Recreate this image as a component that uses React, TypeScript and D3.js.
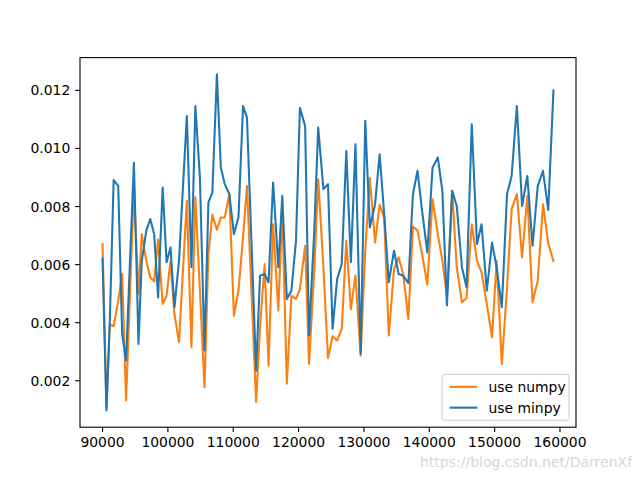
import React from 'react';
import * as d3 from 'd3';

// array sizes on the x axis (spacing grows slightly)
const sizes = [
  90000, 90600, 91100, 91700, 92400, 93000, 93600, 94200, 94800, 95500,
  96000, 96700, 97300, 97900, 98500, 99200, 99800, 100400, 101000, 101700,
  102300, 102900, 103600, 104200, 104900, 105600, 106200, 106800, 107500, 108100,
  108700, 109400, 110100, 110800, 111500, 112100, 112800, 113500, 114100, 114800,
  115400, 116100, 116900, 117500, 118200, 118900, 119600, 120200, 121000, 121600,
  122400, 123000, 123800, 124500, 125200, 125900, 126600, 127300, 128000, 128700,
  129500, 130200, 130900, 131700, 132400, 133100, 133800, 134600, 135300, 136000,
  136800, 137500, 138200, 138900, 139700, 140500, 141300, 142000, 142700, 143500,
  144200, 145000, 145700, 146500, 147300, 148000, 148800, 149600, 150300, 151100,
  151900, 152600, 153400, 154200, 155000, 155800, 156600, 157400, 158200, 159000,
];

const numpyTimes = [
  0.00671, 0.00109, 0.00394, 0.00388, 0.00476, 0.00568, 0.00132, 0.00499, 0.00868, 0.00499,
  0.00705, 0.00613, 0.00556, 0.00542, 0.00686, 0.00465, 0.00493, 0.00613, 0.00430, 0.00333,
  0.00579, 0.00820, 0.00316, 0.00833, 0.00510, 0.00178, 0.00636, 0.00772, 0.00719, 0.00762,
  0.00762, 0.00843, 0.00424, 0.00510, 0.00694, 0.00871, 0.00499, 0.00127, 0.00384, 0.00602,
  0.00253, 0.00739, 0.00442, 0.00791, 0.00190, 0.00493, 0.00482, 0.00516, 0.00665, 0.00258,
  0.00579, 0.00894, 0.00591, 0.00278, 0.00353, 0.00339, 0.00379, 0.00682, 0.00447, 0.00562,
  0.00287, 0.00648, 0.00898, 0.00676, 0.00806, 0.00762, 0.00356, 0.00585, 0.00625, 0.00568,
  0.00413, 0.00731, 0.00717, 0.00636, 0.00531, 0.00825, 0.00705, 0.00613, 0.00493, 0.00854,
  0.00591, 0.00470, 0.00485, 0.00739, 0.00613, 0.00573, 0.00465, 0.00350, 0.00613, 0.00258,
  0.00522, 0.00791, 0.00843, 0.00625, 0.00837, 0.00470, 0.00545, 0.00808, 0.00673, 0.00613,
];

const minpyTimes = [
  0.00619, 0.00098, 0.00396, 0.00891, 0.00871, 0.00361, 0.00270, 0.00613, 0.00951, 0.00327,
  0.00613, 0.00717, 0.00757, 0.00705, 0.00487, 0.00865, 0.00608, 0.00659, 0.00453, 0.00613,
  0.00865, 0.01112, 0.00591, 0.01146, 0.00900, 0.00304, 0.00814, 0.00848, 0.01255, 0.00934,
  0.00877, 0.00843, 0.00705, 0.00762, 0.01146, 0.01106, 0.00671, 0.00235, 0.00562, 0.00568,
  0.00539, 0.00883, 0.00591, 0.00837, 0.00482, 0.00510, 0.00682, 0.01140, 0.01077, 0.00356,
  0.00717, 0.01072, 0.00860, 0.00877, 0.00379, 0.00550, 0.00602, 0.00991, 0.00608, 0.01014,
  0.00293, 0.01095, 0.00728, 0.00808, 0.00980, 0.00774, 0.00539, 0.00648, 0.00568, 0.00562,
  0.00536, 0.00843, 0.00923, 0.00785, 0.00642, 0.00934, 0.00969, 0.00854, 0.00459, 0.00854,
  0.00802, 0.00591, 0.00522, 0.01083, 0.00671, 0.00739, 0.00510, 0.00676, 0.00591, 0.00453,
  0.00843, 0.00905, 0.01146, 0.00802, 0.00905, 0.00665, 0.00871, 0.00923, 0.00788, 0.01200,
];

const xTicks = [90000, 100000, 110000, 120000, 130000, 140000, 150000, 160000];
const yTicks = [0.002, 0.004, 0.006, 0.008, 0.010, 0.012];

const seriesNames = ['use numpy', 'use minpy'];
const seriesColors = ['#ff7f0e', '#1f77b4'];

const W = 640;
const H = 480;
const left = 80, right = 576, top = 57.6, bottom = 427.2;
const font = 'DejaVu Sans, sans-serif';
const fs = 13.9;

function padded(vals: number[]) {
  const [lo, hi] = d3.extent(vals) as [number, number];
  const p = (hi - lo) * 0.05;
  return [lo - p, hi + p];
}

export default function App() {
  const x = d3.scaleLinear().domain(padded(sizes)).range([left, right]);
  const y = d3.scaleLinear().domain(padded([...numpyTimes, ...minpyTimes])).range([bottom, top]);

  const line = d3.line<number>()
    .x((_, i) => x(sizes[i]))
    .y(d => y(d));

  const series = [numpyTimes, minpyTimes];
  const tick = 4.86;

  // legend box, lower right
  const lgW = 127, lgH = 46;
  const lgX = right - 6.94 - lgW;
  const lgY = bottom - 6.94 - lgH;

  return (
    <svg width={W} height={H} style={{ position: 'absolute', left: 0, top: 0, background: '#fff' }}>
      {series.map((s, k) => (
        <path key={k} d={line(s) || ''} fill="none" stroke={seriesColors[k]}
          strokeWidth={2.08} strokeLinejoin="round" strokeLinecap="square" />
      ))}

      <rect x={left} y={top} width={right - left} height={bottom - top}
        fill="none" stroke="#000" strokeWidth={1.11} />

      {xTicks.map(t => (
        <g key={t}>
          <line x1={x(t)} x2={x(t)} y1={bottom} y2={bottom + tick} stroke="#000" strokeWidth={1.11} />
          <text x={x(t)} y={bottom + 2 * tick + 10.1} textAnchor="middle"
            fontFamily={font} fontSize={fs} fill="#000">{t}</text>
        </g>
      ))}

      {yTicks.map(t => (
        <g key={t}>
          <line x1={left - tick} x2={left} y1={y(t)} y2={y(t)} stroke="#000" strokeWidth={1.11} />
          <text x={left - 2 * tick} y={y(t) + 5} textAnchor="end"
            fontFamily={font} fontSize={fs} fill="#000">{d3.format('.3f')(t)}</text>
        </g>
      ))}

      <rect x={lgX} y={lgY} width={lgW} height={lgH} rx={2.8}
        fill="#fff" fillOpacity={0.8} stroke="#cccccc" strokeWidth={1} />
      {seriesNames.map((n, k) => {
        const cy = lgY + 5.56 + 7 + k * 20.85;
        return (
          <g key={n}>
            <line x1={lgX + 7.5} x2={lgX + 35.3} y1={cy} y2={cy}
              stroke={seriesColors[k]} strokeWidth={2.08} />
            <text x={lgX + 46.4} y={cy + 5} fontFamily={font} fontSize={fs} fill="#000">{n}</text>
          </g>
        );
      })}

      <text x={420} y={467} fontFamily={font} fontSize={14} fill="#d6d6d6">
        https://blog.csdn.net/DarrenXf
      </text>
    </svg>
  );
}
